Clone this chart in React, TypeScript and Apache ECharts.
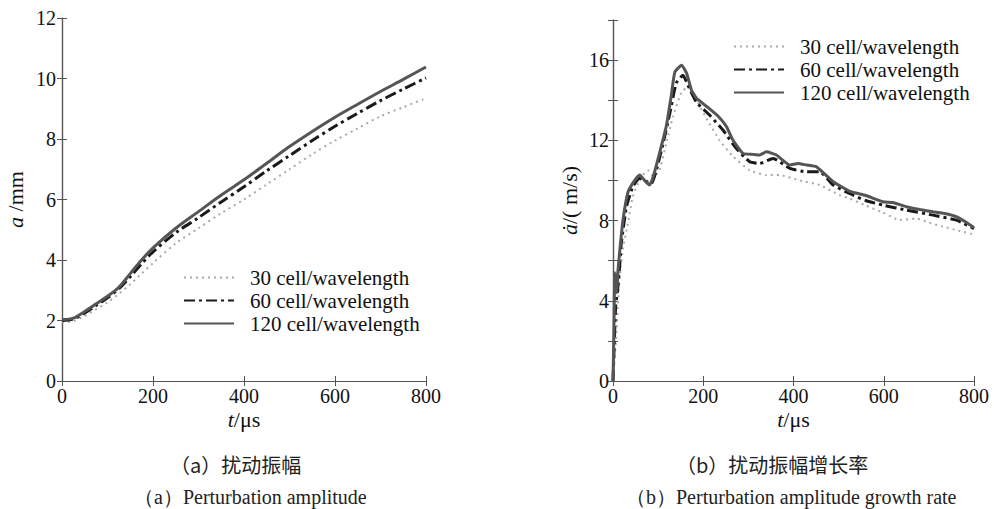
import React, { useEffect, useRef } from "react";
import * as echarts from "echarts";

// ---- data: (a) perturbation amplitude a (mm) vs t (us)
const aT = [0, 25, 50, 75, 100, 125, 150, 175, 200, 250, 300, 350, 400, 450, 500, 550, 600, 650, 700, 750, 800];
const a30 = [1.95, 1.98, 2.15, 2.37, 2.6, 2.88, 3.2, 3.55, 3.9, 4.55, 5.05, 5.55, 6.0, 6.5, 7.0, 7.5, 7.95, 8.35, 8.75, 9.05, 9.35];
const a60 = [2.0, 2.05, 2.25, 2.5, 2.75, 3.05, 3.45, 3.88, 4.27, 4.9, 5.4, 5.92, 6.42, 6.95, 7.45, 7.95, 8.42, 8.85, 9.27, 9.65, 10.02];
const a120 = [2.03, 2.08, 2.3, 2.55, 2.8, 3.1, 3.55, 4.0, 4.4, 5.05, 5.6, 6.15, 6.65, 7.2, 7.75, 8.25, 8.72, 9.15, 9.57, 9.97, 10.38];

// ---- data: (b) growth rate (m/s) vs t (us)
const rT30 = [0, 4, 7.5, 11, 15, 22, 33, 44, 63, 78, 89, 103, 118, 133, 152, 166, 181, 207, 236, 266, 303, 340, 369, 414, 458, 502, 524, 560, 598, 635, 672, 700, 731, 765, 800];
const r30 = [0, 1.2, 2.4, 3.8, 5.2, 6.6, 7.86, 9.2, 10.2, 10.5, 10.2, 10.5, 11.85, 13.2, 14.4, 14.67, 14.17, 13.1, 12.0, 11.2, 10.5, 10.27, 10.27, 10.0, 9.77, 9.27, 9.1, 8.75, 8.4, 8.03, 8.1, 7.9, 7.7, 7.5, 7.3];
const rT60 = [0, 3, 6, 10, 14, 18.5, 30, 44, 59, 70, 85, 96, 111, 126, 140, 155, 166, 185, 214, 244, 273, 303, 325, 355, 392, 429, 458, 488, 524, 560, 598, 650, 709, 761, 800];
const r60 = [0, 2.0, 3.8, 4.5, 5.5, 6.9, 8.7, 9.7, 10.1, 10.0, 9.85, 10.5, 11.85, 13.35, 14.85, 15.25, 14.75, 13.9, 13.26, 12.5, 11.6, 10.93, 10.85, 11.1, 10.6, 10.43, 10.43, 9.77, 9.35, 9.0, 8.77, 8.52, 8.27, 8.02, 7.6];
const rT120 = [0, 2, 4, 6, 8, 11, 15, 22, 33, 48, 59, 70, 81, 89, 103, 118, 129, 137, 152, 163, 174, 185, 207, 233, 251, 266, 288, 310, 325, 340, 362, 392, 410, 429, 451, 470, 488, 525, 560, 598, 620, 650, 680, 709, 735, 761, 780, 800];
const r120 = [0, 2.5, 5.4, 4.8, 4.4, 5.5, 6.5, 8.0, 9.4, 10.0, 10.27, 10.0, 9.77, 10.18, 11.35, 12.7, 14.2, 15.4, 15.75, 15.35, 14.5, 14.1, 13.7, 13.2, 12.7, 12.0, 11.35, 11.3, 11.27, 11.43, 11.27, 10.77, 10.85, 10.77, 10.68, 10.3, 9.94, 9.45, 9.25, 8.94, 8.9, 8.69, 8.55, 8.44, 8.35, 8.19, 7.95, 7.64];

const seriesNames = ["30 cell/wavelength", "60 cell/wavelength", "120 cell/wavelength"];
const captions = ["（a）扰动振幅", "（a）Perturbation amplitude", "（b）扰动振幅增长率", "（b）Perturbation amplitude growth rate"];

const SERIF = "Liberation Serif";
const CJK = "Noto Sans CJK SC";
const AXC = "#555";

const zip = (t: number[], v: number[]) => t.map((x, i) => [x, v[i]]);

const lineStyles = [
  { color: "#aaaaaa", width: 2, type: [2, 4] as any },
  { color: "#1a1a1a", width: 3, type: [11, 4, 3, 4] as any },
  { color: "#555555", width: 3, type: "solid" as any },
];

export default function App() {
  const ref = useRef<HTMLDivElement>(null);
  useEffect(() => {
    if (!ref.current) return;
    const chart = echarts.init(ref.current, undefined, { renderer: "svg" });
    const grids = [
      { left: 62, top: 18, width: 364, height: 363 },
      { left: 613, top: 20, width: 361, height: 361 },
    ];
    const tick = { show: true, inside: true, length: 5, lineStyle: { color: AXC, width: 1 } };
    const axisLine = { show: true, lineStyle: { color: AXC, width: 1.2 } };
    const label = { fontFamily: SERIF, fontSize: 20, color: "#111" };
    const nameRich = {
      i: { fontFamily: SERIF, fontSize: 22, fontStyle: "italic", color: "#111" },
      n: { fontFamily: SERIF, fontSize: 22, color: "#111" },
    };
    const nameStyle = { fontFamily: SERIF, fontSize: 22, color: "#111", rich: nameRich };
    const xAxes: any[] = [];
    const yAxes: any[] = [];
    [0, 1].forEach((g) => {
      xAxes.push({
        type: "value", gridIndex: g, min: 0, max: 800, interval: 200, position: "bottom",
        axisLine, axisTick: tick, splitLine: { show: false },
        axisLabel: { ...label, margin: 5 },
        name: "{i|t}{n|/μs}", nameLocation: "middle", nameGap: 27, nameMoveOverlap: false,
        nameTextStyle: nameStyle,
      });
      xAxes.push({
        type: "value", gridIndex: g, min: 0, max: 800, interval: 200, position: "top",
        axisLine, axisTick: tick, splitLine: { show: false }, axisLabel: { show: false },
      });
    });
    yAxes.push({
      type: "value", gridIndex: 0, min: 0, max: 12, interval: 2, position: "left",
      axisLine, axisTick: tick, splitLine: { show: false },
      axisLabel: { ...label, margin: 6 },
      name: "{i|a} {n|/mm}", nameLocation: "middle", nameGap: 36,
      nameTextStyle: nameStyle,
    });
    yAxes.push({
      type: "value", gridIndex: 0, min: 0, max: 12, interval: 2, position: "right",
      axisLine, axisTick: tick, splitLine: { show: false }, axisLabel: { show: false },
    });
    yAxes.push({
      type: "value", gridIndex: 1, min: 0, max: 18, interval: 2, position: "left",
      axisLine, axisTick: tick, splitLine: { show: false },
      axisLabel: { ...label, margin: 4, formatter: (v: number) => (v % 4 === 0 ? String(v) : "") },
      name: "{i|a\u0307}{n|/( m/s)}", nameLocation: "middle", nameGap: 33,
      nameTextStyle: nameStyle,
    });
    yAxes.push({
      type: "value", gridIndex: 1, min: 0, max: 18, interval: 2, position: "right",
      axisLine, axisTick: tick, splitLine: { show: false }, axisLabel: { show: false },
    });

    const leftData = [zip(aT, a30), zip(aT, a60), zip(aT, a120)];
    const rightData = [zip(rT30, r30), zip(rT60, r60), zip(rT120, r120)];
    const series: any[] = [];
    [0, 1, 2].forEach((k) => {
      series.push({
        type: "line", name: seriesNames[k], xAxisIndex: 0, yAxisIndex: 0,
        data: leftData[k], showSymbol: false, symbol: "none", smooth: 0.3,
        lineStyle: lineStyles[k], itemStyle: { color: lineStyles[k].color }, z: 2 + k,
      });
    });
    [0, 1, 2].forEach((k) => {
      series.push({
        type: "line", name: seriesNames[k], xAxisIndex: 2, yAxisIndex: 2,
        data: rightData[k], showSymbol: false, symbol: "none", smooth: 0.15,
        lineStyle: lineStyles[k], itemStyle: { color: lineStyles[k].color }, z: 2 + k,
      });
    });

    const legendCommon = {
      orient: "vertical", itemWidth: 50, itemHeight: 12, itemGap: 2, padding: 0,
      data: seriesNames, selectedMode: false,
      itemStyle: { opacity: 0, borderWidth: 0 },
      textStyle: { fontFamily: SERIF, fontSize: 21, color: "#111", padding: [0, 0, 0, 11] },
    };

    const capStyle = { fontFamily: CJK, fontSize: 20, fontWeight: "normal", color: "#222" };
    const capStyleEn = { fontFamily: SERIF, fontSize: 20, fontWeight: "normal", color: "#222" };
    chart.setOption({
      animation: false,
      backgroundColor: "#fff",
      grid: grids,
      xAxis: xAxes,
      yAxis: yAxes,
      series,
      legend: [
        { ...legendCommon, left: 183, top: 267 },
        { ...legendCommon, left: 733, top: 36 },
      ],
      title: [
        { text: captions[0], left: 170, top: 454, textStyle: capStyle, padding: 0 },
        { text: captions[1], left: 134, top: 487, textStyle: capStyleEn, padding: 0 },
        { text: captions[2], left: 676, top: 454, textStyle: capStyle, padding: 0 },
        { text: captions[3], left: 626, top: 487, textStyle: capStyleEn, padding: 0 },
      ],
    });
    return () => chart.dispose();
  }, []);
  return <div ref={ref} style={{ width: 994, height: 509, position: "absolute", left: 0, top: 0 }} />;
}
